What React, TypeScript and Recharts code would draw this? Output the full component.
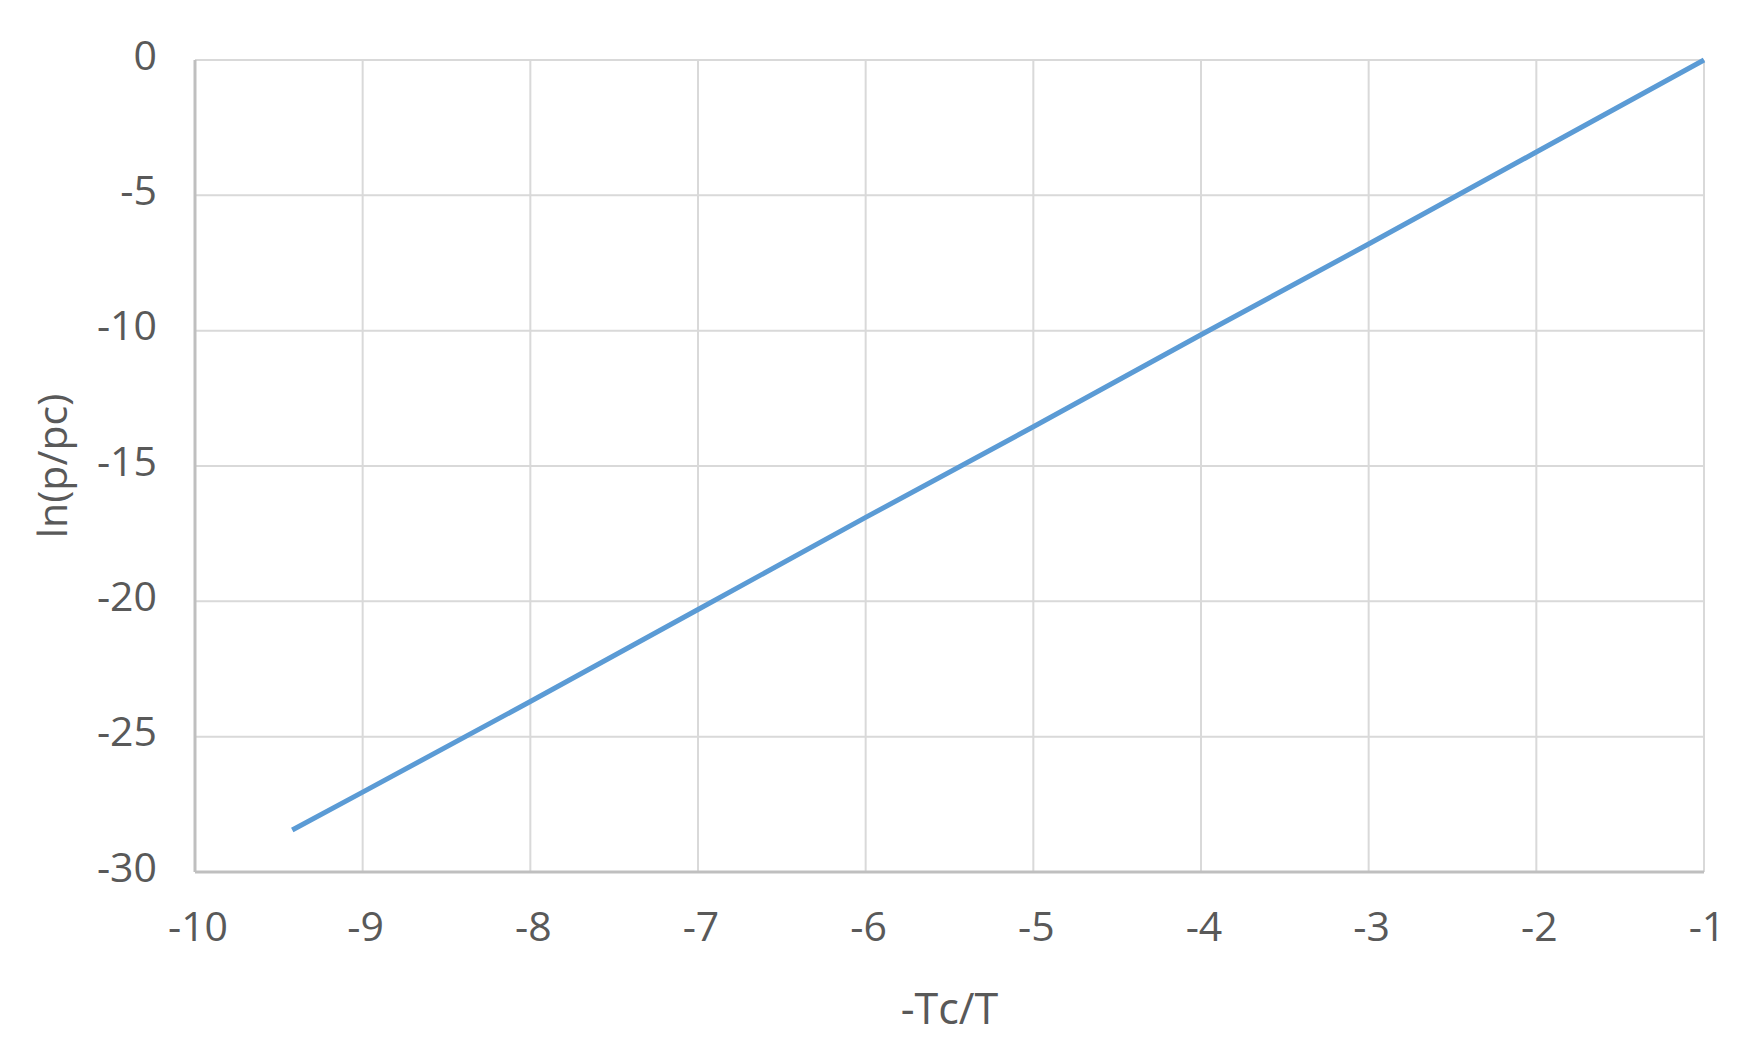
import React from 'react';
import { LineChart, Line, XAxis, YAxis, CartesianGrid, Label } from 'recharts';

const xValues = [-9.42, -9, -8, -7, -6, -5, -4, -3, -2, -1];
const yValues = [-28.45, -27.05, -23.7, -20.3, -16.9, -13.55, -10.15, -6.8, -3.4, 0];
const xTicks = [-10, -9, -8, -7, -6, -5, -4, -3, -2, -1];
const yTicks = [-30, -25, -20, -15, -10, -5, 0];

const data = xValues.map((x, i) => ({ x, y: yValues[i] }));

const FONT = '"Open Sans", "Noto Sans", sans-serif';
const TXT = '#595959';
const FS = 41;

export default function App() {
  return (
    <LineChart
      width={1734}
      height={1035}
      data={data}
      margin={{ top: 52, right: 38, left: 47, bottom: 51 }}
    >
      <CartesianGrid stroke="#d9d9d9" strokeWidth={2} />
      <XAxis
        dataKey="x"
        type="number"
        domain={[-10, -1]}
        ticks={xTicks}
        interval={0}
        height={120}
        tickLine={false}
        tickSize={0}
        tickMargin={40}
        axisLine={{ stroke: '#bfbfbf', strokeWidth: 3 }}
        tick={{ fill: TXT, fontSize: FS, fontFamily: FONT, dx: 3 }}
      >
        <Label
          content={({ viewBox }: any) => (
            <text
              x={viewBox.x + viewBox.width / 2}
              y={1007 - 8}
              textAnchor="middle"
              dominantBaseline="central"
              fill={TXT}
              fontSize={FS + 2}
              fontFamily={FONT}
            >
              -Tc/T
            </text>
          )}
        />
      </XAxis>
      <YAxis
        dataKey="y"
        type="number"
        domain={[-30, 0]}
        ticks={yTicks}
        interval={0}
        width={140}
        tickLine={false}
        tickSize={0}
        tickMargin={38}
        axisLine={{ stroke: '#bfbfbf', strokeWidth: 3 }}
        tick={{ fill: TXT, fontSize: FS, fontFamily: FONT, dy: -5 }}
      >
        <Label
          content={({ viewBox }: any) => {
            const cx = 51 - 8;
            const cy = viewBox.y + viewBox.height / 2;
            return (
              <text
                x={cx}
                y={cy}
                textAnchor="middle"
                dominantBaseline="central"
                fill={TXT}
                fontSize={FS}
                fontFamily={FONT}
                transform={`rotate(-90 ${cx} ${cy})`}
              >
                ln(p/pc)
              </text>
            );
          }}
        />
      </YAxis>
      <Line
        dataKey="y"
        stroke="#5b9bd5"
        strokeWidth={5}
        dot={false}
        isAnimationActive={false}
        type="linear"
      />
    </LineChart>
  );
}
